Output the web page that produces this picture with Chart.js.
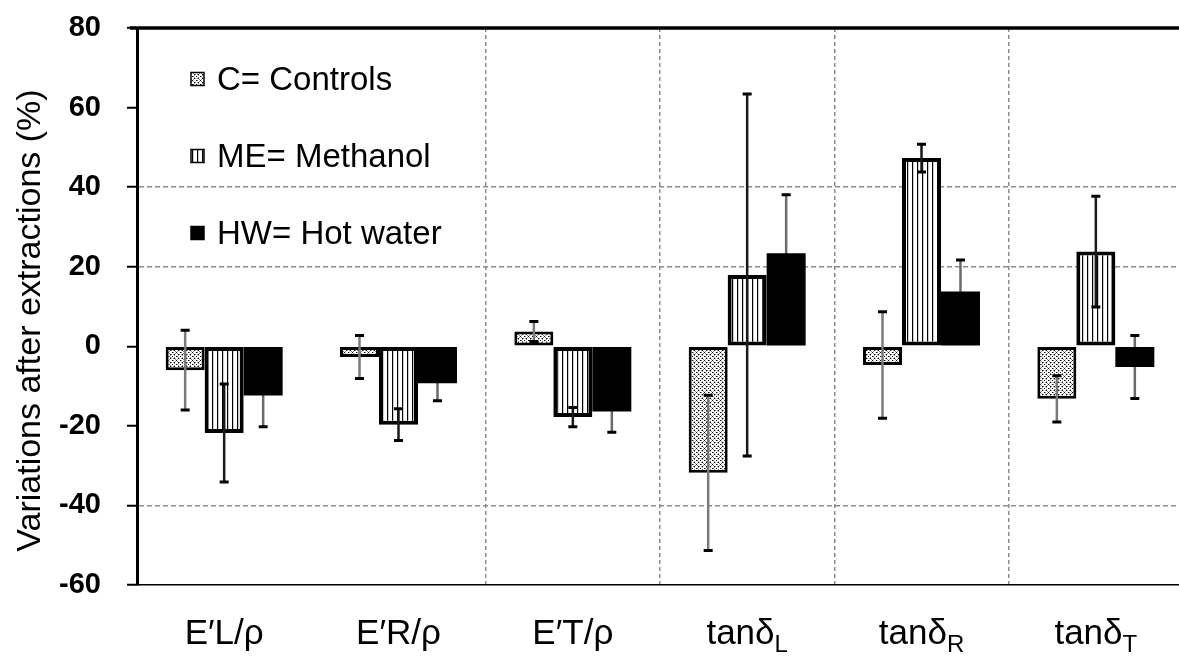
<!DOCTYPE html>
<html lang="en">
<head>
<meta charset="UTF-8">
<title>Variations after extractions</title>
<script src="https://cdn.jsdelivr.net/npm/chart.js@4.4.0/dist/chart.umd.min.js"></script>
<style>
  html, body { margin: 0; padding: 0; background: #fff; overflow: hidden; }
  #wrap { position: relative; width: 1184px; height: 659px; }
</style>
</head>
<body>
<div id="wrap"><canvas id="chart"></canvas></div>
<script>
// categories (base text + subscript part)
var labelBase = ['E\u2032L/\u03C1', 'E\u2032R/\u03C1', 'E\u2032T/\u03C1', 'tan\u03B4', 'tan\u03B4', 'tan\u03B4'];
var labelSub = ['', '', '', 'L', 'R', 'T'];

// mean variation (%) and standard deviation per treatment
var controls = [-6.0, -2.7, 3.7, -31.8, -4.7, -13.2];
var controlsSd = [10.0, 5.4, 2.5, 19.5, 13.4, 5.8];
var methanol = [-21.8, -19.7, -17.8, 17.9, 47.3, 23.8];
var methanolSd = [12.3, 4.0, 2.4, 45.5, 3.5, 13.9];
var hotWater = [-12.4, -9.3, -16.4, 23.4, 13.8, -5.2];
var hotWaterSd = [7.8, 4.4, 5.2, 14.7, 7.9, 7.9];

var legendText = ['C= Controls', 'ME= Methanol', 'HW= Hot water'];
var yTitle = 'Variations after extractions (%)';

var FONT = "'Liberation Sans', Arial, sans-serif";

// stippled fill for the controls
function dotPattern(ctx) {
    var c = document.createElement('canvas');
    c.width = 8; c.height = 8;
    var g = c.getContext('2d');
    g.fillStyle = '#fff';
    g.fillRect(0, 0, 8, 8);
    g.fillStyle = '#8a8a8a';
    [[3,2],[5,2],[2,3],[6,3],[2,5],[6,5],[3,6],[5,6],[1,1],[7,1],[1,7],[7,7],[1,4],[5,0]].forEach(function (p) { g.fillRect(p[0], p[1], 1, 1); });
    g.fillStyle = '#000';
    [[0,0],[4,4],[4,0],[0,4],[2,2],[6,6],[6,2],[2,6]].forEach(function (p) { g.fillRect(p[0], p[1], 1, 1); });
    return ctx.createPattern(c, 'repeat');
}

// vertical line fill for methanol
function linePattern(ctx) {
    var c = document.createElement('canvas');
    c.width = 5; c.height = 4;
    var g = c.getContext('2d');
    g.fillStyle = '#fff';
    g.fillRect(0, 0, 5, 4);
    g.fillStyle = '#000';
    g.fillRect(2, 0, 1.2, 4);
    return ctx.createPattern(c, 'repeat');
}

var ctx = document.getElementById('chart').getContext('2d');
var dots = dotPattern(ctx);
var stripes = linePattern(ctx);

function drawErrors(chart, under) {
    var c = chart.ctx, y = chart.scales.y;
    chart.data.datasets.forEach(function (ds, i) {
        if (!!ds.errorsUnder !== under) return;
        chart.getDatasetMeta(i).data.forEach(function (bar, j) {
            var hi = y.getPixelForValue(ds.data[j] + ds.errors[j]);
            var lo = y.getPixelForValue(ds.data[j] - ds.errors[j]);
            c.save();
            c.strokeStyle = ds.errorColor;
            c.lineWidth = 2.5;
            c.beginPath();
            c.moveTo(bar.x, hi);
            c.lineTo(bar.x, lo);
            c.stroke();
            c.strokeStyle = '#000';
            c.lineWidth = 3;
            c.beginPath();
            c.moveTo(bar.x - 4.5, hi); c.lineTo(bar.x + 4.5, hi);
            c.moveTo(bar.x - 4.5, lo); c.lineTo(bar.x + 4.5, lo);
            c.stroke();
            c.restore();
        });
    });
}

var errorBars = {
    id: 'errorBars',
    beforeDatasetsDraw: function (chart) { drawErrors(chart, true); },
    afterDatasetsDraw: function (chart) { drawErrors(chart, false); }
};

var decorations = {
    id: 'decorations',
    afterDraw: function (chart) {
        var c = chart.ctx, a = chart.chartArea, x = chart.scales.x;
        c.save();
        // top frame line
        c.strokeStyle = '#000';
        c.lineWidth = 3.5;
        c.beginPath();
        c.moveTo(a.left - 7, a.top);
        c.lineTo(a.right, a.top);
        c.stroke();

        // y axis title, a little below the middle of the axis
        c.save();
        c.translate(31, (a.top + a.bottom) / 2 + 14);
        c.rotate(-Math.PI / 2);
        c.font = '34px ' + FONT;
        c.fillStyle = '#000';
        c.textAlign = 'center';
        c.textBaseline = 'middle';
        c.fillText(yTitle, 0, 0);
        c.restore();

        // category labels with subscripts
        c.fillStyle = '#000';
        c.textBaseline = 'alphabetic';
        labelBase.forEach(function (base, i) {
            var cx = x.getPixelForValue(i);
            c.font = '35px ' + FONT;
            var wb = c.measureText(base).width;
            c.font = '24px ' + FONT;
            var ws = labelSub[i] ? c.measureText(labelSub[i]).width : 0;
            var left = cx - (wb + ws) / 2;
            c.font = '35px ' + FONT;
            c.textAlign = 'left';
            c.fillText(base, left, a.bottom + 59);
            if (labelSub[i]) {
                c.font = '24px ' + FONT;
                c.fillText(labelSub[i], left + wb, a.bottom + 67);
            }
        });

        // legend inside the plot
        var fills = [dots, stripes, '#000'];
        legendText.forEach(function (t, i) {
            var ly = a.top + 51 + i * 77;
            var sx = a.left + 54;
            c.fillStyle = fills[i];
            c.fillRect(sx, ly - 6.5, 13, 13);
            c.strokeStyle = '#000';
            c.lineWidth = 1.5;
            c.strokeRect(sx, ly - 6.5, 13, 13);
            c.fillStyle = '#000';
            c.font = '33px ' + FONT;
            c.textAlign = 'left';
            c.textBaseline = 'middle';
            c.fillText(t, sx + 26, ly + 2);
        });
        c.restore();
    }
};

new Chart(ctx, {
    type: 'bar',
    data: {
        labels: labelBase.map(function (b, i) { return b + labelSub[i]; }),
        datasets: [{
            label: legendText[0],
            data: controls,
            errors: controlsSd,
            errorColor: '#7a7a7a',
            backgroundColor: dots,
            borderColor: '#000',
            borderWidth: 3
        }, {
            label: legendText[1],
            data: methanol,
            errors: methanolSd,
            errorColor: '#1a1a1a',
            backgroundColor: stripes,
            borderColor: '#000',
            borderWidth: 4
        }, {
            label: legendText[2],
            data: hotWater,
            errors: hotWaterSd,
            errorColor: '#6a6a6a',
            errorsUnder: true,
            backgroundColor: '#000',
            borderWidth: 0
        }]
    },
    options: {
        responsive: true,
        maintainAspectRatio: false,
        animation: false,
        layout: { padding: { top: 0, bottom: 74, left: 0, right: 1 } },
        datasets: {
            bar: { barPercentage: 1, categoryPercentage: 0.671, borderSkipped: false }
        },
        plugins: {
            legend: { display: false },
            tooltip: { enabled: false }
        },
        scales: {
            x: {
                ticks: { display: false },
                grid: {
                    offset: true,
                    drawTicks: false,
                    lineWidth: 1.5,
                    color: function (c) { return (c.index >= 2 && c.index <= 5) ? '#8c8c8c' : 'rgba(0,0,0,0)'; }
                },
                border: { color: '#000', width: 1.5, dash: [4, 3] }
            },
            y: {
                min: -60,
                max: 80,
                afterFit: function (s) {
                    s.width = 137;
                    s.paddingTop = 28;
                    s.paddingBottom = 0;
                },
                ticks: {
                    stepSize: 20,
                    padding: 26,
                    color: '#000',
                    font: { family: FONT, size: 29, weight: 'bold' }
                },
                grid: {
                    lineWidth: 1.5,
                    tickLength: 10,
                    tickColor: '#000',
                    tickWidth: 2,
                    color: function (c) {
                        var v = c.tick && c.tick.value;
                        return (v === 40 || v === 20 || v === -40) ? '#8c8c8c' : 'rgba(0,0,0,0)';
                    }
                },
                border: { color: '#000', width: 3, dash: [5, 3] }
            }
        }
    },
    plugins: [errorBars, decorations]
});
</script>
</body>
</html>
